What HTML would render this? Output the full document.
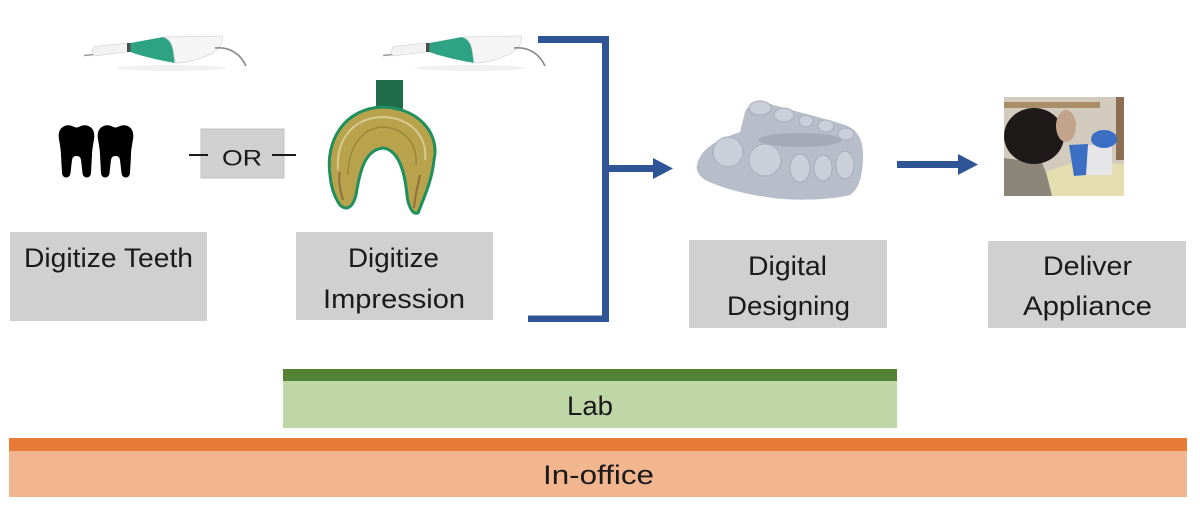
<!DOCTYPE html>
<html>
<head>
<meta charset="utf-8">
<style>
  html,body{margin:0;padding:0;background:#fff;}
  body{width:1200px;height:508px;overflow:hidden;}
  svg{display:block;}
  text{font-family:"Liberation Sans", sans-serif;fill:#1a1a1a;}
</style>
</head>
<body>
<svg width="1200" height="508" viewBox="0 0 1200 508" xmlns="http://www.w3.org/2000/svg">
  <rect x="0" y="0" width="1200" height="508" fill="#ffffff"/>

  <!-- ===== Scanner 2 ===== -->
  <g>
    <ellipse cx="470" cy="68" rx="55" ry="3" fill="#f1f1f1"/>
    <line x1="383" y1="55.5" x2="393" y2="54.5" stroke="#9a9a9a" stroke-width="1.6"/>
    <path d="M391 52 L393 46.5 L428 43 L429 51.5 L393 56 Z" fill="#f2f2f2" stroke="#cfcfcf" stroke-width="0.6"/>
    <rect x="426" y="43" width="4" height="9" fill="#4d4d4d"/>
    <path d="M429.5 43 L462 37 C469 38.5 471.5 45 472.5 52 L474 63 C460 60.5 441 56.5 429.5 52 Z" fill="#2ea383"/>
    <path d="M462 37 L521 36 C523 42 518 50 510 54 C496 60 486 63 474 63 L472.5 52 C471.5 45 469 38.5 462 37 Z" fill="#f5f5f5" stroke="#d6d6d6" stroke-width="0.7"/>
    <path d="M514 48 C530 46.5 540 55 545 66" fill="none" stroke="#8a8a8a" stroke-width="1.6"/>
  </g>
  <!-- Scanner 1 -->
  <g transform="translate(-299,0)">
    <ellipse cx="470" cy="68" rx="55" ry="3" fill="#f1f1f1"/>
    <line x1="383" y1="55.5" x2="393" y2="54.5" stroke="#9a9a9a" stroke-width="1.6"/>
    <path d="M391 52 L393 46.5 L428 43 L429 51.5 L393 56 Z" fill="#f2f2f2" stroke="#cfcfcf" stroke-width="0.6"/>
    <rect x="426" y="43" width="4" height="9" fill="#4d4d4d"/>
    <path d="M429.5 43 L462 37 C469 38.5 471.5 45 472.5 52 L474 63 C460 60.5 441 56.5 429.5 52 Z" fill="#2ea383"/>
    <path d="M462 37 L521 36 C523 42 518 50 510 54 C496 60 486 63 474 63 L472.5 52 C471.5 45 469 38.5 462 37 Z" fill="#f5f5f5" stroke="#d6d6d6" stroke-width="0.7"/>
    <path d="M514 48 C530 46.5 540 55 545 66" fill="none" stroke="#8a8a8a" stroke-width="1.6"/>
  </g>

  <!-- ===== Teeth icon ===== -->
  <g fill="#000">
    <path transform="translate(58,124)" d="M1 15 C-1 4 7 0 12.5 1.5 C15.5 2.5 17.5 3.5 18.5 3.5 C19.5 3.5 21.5 2.5 24.5 1.5 C30 0 38 4 36 15 C35 22 34 26 34 31 L33 49 C32.5 55 25 55 24.5 49 L23 36 C22.5 33 21 32 18.5 32 C16 32 14.5 33 14 36 L12.5 49 C12 55 4.5 55 4 49 L3 31 C3 26 2 22 1 15 Z"/>
    <path transform="translate(97,124)" d="M1 15 C-1 4 7 0 12.5 1.5 C15.5 2.5 17.5 3.5 18.5 3.5 C19.5 3.5 21.5 2.5 24.5 1.5 C30 0 38 4 36 15 C35 22 34 26 34 31 L33 49 C32.5 55 25 55 24.5 49 L23 36 C22.5 33 21 32 18.5 32 C16 32 14.5 33 14 36 L12.5 49 C12 55 4.5 55 4 49 L3 31 C3 26 2 22 1 15 Z"/>
  </g>

  <!-- ===== OR box ===== -->
  <rect x="201" y="129" width="83" height="49" fill="#d0d0d0" stroke="#c2c2c2" stroke-width="1"/>
  <line x1="189" y1="155" x2="208" y2="155" stroke="#1a1a1a" stroke-width="2"/>
  <line x1="272" y1="155" x2="296" y2="155" stroke="#1a1a1a" stroke-width="2"/>
  <text x="222" y="165.5" font-size="22" textLength="40" lengthAdjust="spacingAndGlyphs">OR</text>

  <!-- ===== Impression tray ===== -->
  <rect x="376" y="80" width="27" height="31" fill="#1f6b4a"/>
  <path d="M330 175 C325 140 345 108 383 107 C420 108 440 135 434 160 C432 180 425 195 418 213 C412 215 408 205 407 195 C405 175 400 150 383 148 C365 150 360 170 356 195 C352 210 345 210 340 205 C333 195 331 185 330 175 Z" fill="#b8a34c" stroke="#1f8f5e" stroke-width="3"/>
  <path d="M338 170 C336 140 352 118 383 117 C412 118 428 138 425 160" fill="none" stroke="#d6ca90" stroke-width="2"/>
  <path d="M348 175 C348 150 360 128 383 127 C405 128 418 145 416 165" fill="none" stroke="#9c8638" stroke-width="1.5"/>
  <path d="M343 200 C340 190 338 180 340 172" fill="none" stroke="#8d6f40" stroke-width="2"/>
  <path d="M414 208 C415 195 418 185 420 175" fill="none" stroke="#8d6f40" stroke-width="2"/>

  <!-- ===== Blue bracket & arrows ===== -->
  <g fill="#2f5597">
    <rect x="538" y="36" width="71" height="7"/>
    <rect x="602" y="36" width="7" height="286"/>
    <rect x="528" y="315.5" width="81" height="6.5"/>
    <rect x="605" y="165" width="49" height="7"/>
    <polygon points="653,158 673,168.5 653,179"/>
    <rect x="897" y="161" width="62" height="7"/>
    <polygon points="958,154 978,164.5 958,175"/>
  </g>

  <!-- ===== Dental model ===== -->
  <path d="M697 165 C700 150 715 140 740 132 L745 112 C748 104 758 101 770 104 C790 110 820 117 845 125 C858 130 864 140 863 160 C862 175 860 188 850 195 C830 200 790 202 760 196 C735 192 715 185 705 180 C698 175 696 170 697 165 Z" fill="#b8bdca"/>
  <ellipse cx="800" cy="140" rx="42" ry="7" fill="#a4aab8"/>
  <g fill="#cbcfd9" stroke="#a6acba" stroke-width="1">
    <ellipse cx="760" cy="108" rx="11" ry="7"/>
    <ellipse cx="784" cy="115" rx="10" ry="7"/>
    <ellipse cx="806" cy="121" rx="7" ry="6"/>
    <ellipse cx="826" cy="126" rx="8" ry="6"/>
    <ellipse cx="846" cy="134" rx="8" ry="6"/>
    <ellipse cx="728" cy="152" rx="15" ry="15"/>
    <ellipse cx="765" cy="160" rx="16" ry="16"/>
    <ellipse cx="800" cy="168" rx="10" ry="14"/>
    <ellipse cx="823" cy="168" rx="9" ry="13"/>
    <ellipse cx="845" cy="165" rx="9" ry="14"/>
  </g>

  <!-- ===== Photo ===== -->
  <g>
    <rect x="1004" y="97" width="120" height="99" fill="#d2cbbd"/>
    <rect x="1004" y="102" width="96" height="6" fill="#a88d66"/>
    <rect x="1116" y="97" width="8" height="63" fill="#8c6e52"/>
    <polygon points="1004,158 1042,163 1056,196 1004,196" fill="#8b857a"/>
    <polygon points="1046,172 1080,160 1124,164 1124,196 1052,196" fill="#e4ddb0"/>
    <ellipse cx="1034" cy="136" rx="30" ry="28" fill="#1e1a1a"/>
    <ellipse cx="1066" cy="126" rx="10" ry="16" fill="#c2a48c"/>
    <rect x="1085" y="145" width="27" height="30" fill="#e6e6e8"/>
    <ellipse cx="1104" cy="139" rx="13" ry="9" fill="#3a6fc4"/>
    <polygon points="1069,145 1088,144 1086,175 1074,176" fill="#3a6fc4"/>
  </g>

  <!-- ===== Label boxes ===== -->
  <rect x="10" y="232" width="197" height="89" fill="#d0d0d0"/>
  <text x="24" y="267" font-size="27" textLength="169" lengthAdjust="spacingAndGlyphs">Digitize Teeth</text>

  <rect x="296" y="232" width="197" height="88" fill="#d0d0d0"/>
  <text x="348" y="267" font-size="27" textLength="91" lengthAdjust="spacingAndGlyphs">Digitize</text>
  <text x="323" y="308" font-size="27" textLength="142" lengthAdjust="spacingAndGlyphs">Impression</text>

  <rect x="689" y="240" width="198" height="88" fill="#d0d0d0"/>
  <text x="748" y="275" font-size="27" textLength="79" lengthAdjust="spacingAndGlyphs">Digital</text>
  <text x="727" y="315" font-size="27" textLength="123" lengthAdjust="spacingAndGlyphs">Designing</text>

  <rect x="988" y="241" width="198" height="87" fill="#d0d0d0"/>
  <text x="1043" y="275" font-size="27" textLength="89" lengthAdjust="spacingAndGlyphs">Deliver</text>
  <text x="1023" y="315" font-size="27" textLength="129" lengthAdjust="spacingAndGlyphs">Appliance</text>

  <!-- ===== Lab bar ===== -->
  <rect x="283" y="369" width="614" height="12" fill="#548235"/>
  <rect x="283" y="381" width="614" height="47" fill="#bfd6a6"/>
  <text x="567" y="415" font-size="27" textLength="46" lengthAdjust="spacingAndGlyphs">Lab</text>

  <!-- ===== In-office bar ===== -->
  <rect x="9" y="438" width="1178" height="13" fill="#e87c37"/>
  <rect x="9" y="451" width="1178" height="46" fill="#f2b68e"/>
  <text x="543" y="484" font-size="27" textLength="111" lengthAdjust="spacingAndGlyphs">In-office</text>
</svg>
</body>
</html>
